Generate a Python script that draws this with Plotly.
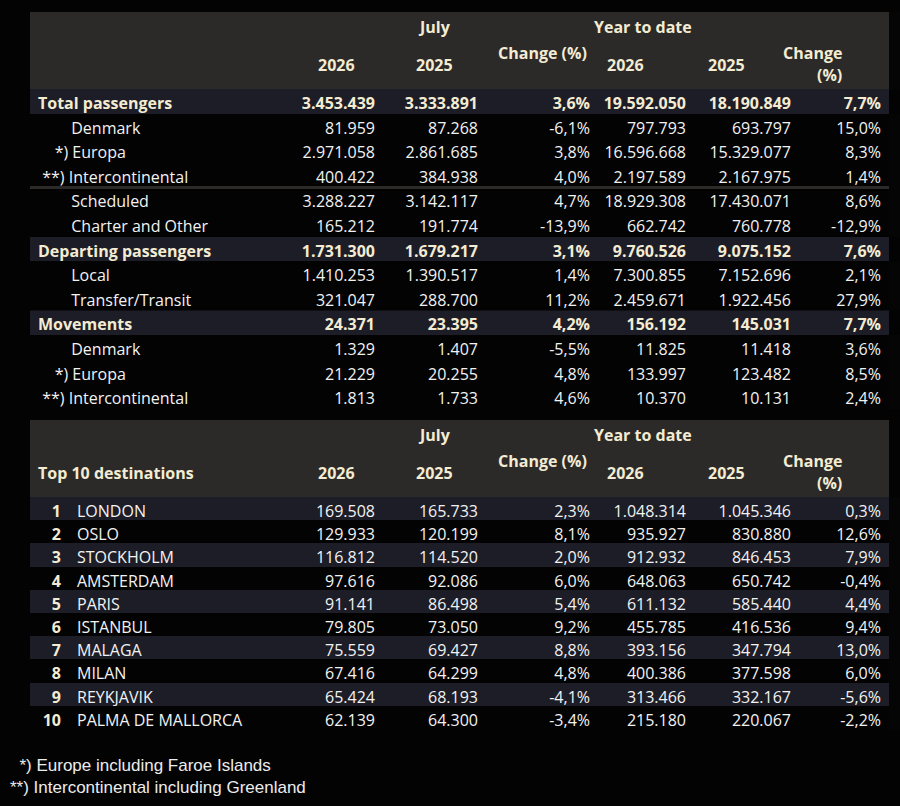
import plotly.graph_objects as go

# ---- top table: passengers / movements ----
# each group = bold total row + its detail rows
group_sizes = [5, 2, 3]
top_labels = ["Total passengers", "Denmark", "Europa", "Intercontinental",
              "Scheduled", "Charter and Other", "Departing passengers",
              "Local", "Transfer/Transit", "Movements", "Denmark", "Europa",
              "Intercontinental"]
top_markers = ["", "", "*)", "**)", "", "", "", "", "", "", "", "*)", "**)"]
jul_2026 = [3453439, 81959, 2971058, 400422, 3288227, 165212, 1731300,
            1410253, 321047, 24371, 1329, 21229, 1813]
jul_2025 = [3333891, 87268, 2861685, 384938, 3142117, 191774, 1679217,
            1390517, 288700, 23395, 1407, 20255, 1733]
jul_change = [3.6, -6.1, 3.8, 4.0, 4.7, -13.9, 3.1, 1.4, 11.2, 4.2, -5.5, 4.8, 4.6]
ytd_2026 = [19592050, 797793, 16596668, 2197589, 18929308, 662742, 9760526,
            7300855, 2459671, 156192, 11825, 133997, 10370]
ytd_2025 = [18190849, 693797, 15329077, 2167975, 17430071, 760778, 9075152,
            7152696, 1922456, 145031, 11418, 123482, 10131]
ytd_change = [7.7, 15.0, 8.3, 1.4, 8.6, -12.9, 7.6, 2.1, 27.9, 7.7, 3.6, 8.5, 2.4]

# ---- bottom table: top 10 destinations ----
dest_rank = [1, 2, 3, 4, 5, 6, 7, 8, 9, 10]
dest_names = ["LONDON", "OSLO", "STOCKHOLM", "AMSTERDAM", "PARIS", "ISTANBUL",
              "MALAGA", "MILAN", "REYKJAVIK", "PALMA DE MALLORCA"]
dest_jul_2026 = [169508, 129933, 116812, 97616, 91141, 79805, 75559, 67416, 65424, 62139]
dest_jul_2025 = [165733, 120199, 114520, 92086, 86498, 73050, 69427, 64299, 68193, 64300]
dest_jul_change = [2.3, 8.1, 2.0, 6.0, 5.4, 9.2, 8.8, 4.8, -4.1, -3.4]
dest_ytd_2026 = [1048314, 935927, 912932, 648063, 611132, 455785, 393156, 400386, 313466, 215180]
dest_ytd_2025 = [1045346, 830880, 846453, 650742, 585440, 416536, 347794, 377598, 332167, 220067]
dest_ytd_change = [0.3, 12.6, 7.9, -0.4, 4.4, 9.4, 13.0, 6.0, -5.6, -2.2]

footnotes = ["*) Europe including Faroe Islands", "**) Intercontinental including Greenland"]

# ---- styling ----
W, H = 900, 806
FONT = "Open Sans"
BG = "#030303"
HEAD_BG = "#2b2a29"
BAND_BG = "#1d1d27"
TEXT = "#f2f2f2"
CREAM = "#f4ecd2"
NB = "\u00a0"
FS = 16

col_edges = [30, 290, 383, 486, 598, 694, 799, 889]
top_widths = [b - a for a, b in zip(col_edges[:-1], col_edges[1:])]
rank_edge = 69
bot_widths = [rank_edge - col_edges[0], col_edges[1] - rank_edge] + top_widths[1:]
HEAD_H = 77
X_DOM = [col_edges[0] / W, col_edges[-1] / W]


def fmt_int(v):
    return f"{v:,}".replace(",", ".")


def fmt_pct(v):
    return f"{v:.1f}%".replace(".", ",")


def py(px_y):
    return 1 - px_y / H


def px(px_x):
    return px_x / W


marker_pad = {"": NB * 8, "*)": NB * 4, "**)": NB}
top_text = [marker_pad[mk] + (mk + " " if mk else "") + lab
            for lab, mk in zip(top_labels, top_markers)]
top_cols = [top_text,
            [fmt_int(v) for v in jul_2026], [fmt_int(v) for v in jul_2025],
            [fmt_pct(v) for v in jul_change],
            [fmt_int(v) for v in ytd_2026], [fmt_int(v) for v in ytd_2025],
            [fmt_pct(v) for v in ytd_change]]

fig = go.Figure()


def header_band(top):
    # empty dark header strip of a table
    fig.add_trace(go.Table(
        domain=dict(x=X_DOM, y=[py(top + HEAD_H + 1), py(top)]),
        columnwidth=[1],
        header=dict(values=[""], fill_color=HEAD_BG, height=HEAD_H, line_width=0),
        cells=dict(values=[[]], height=1, line_width=0),
    ))


# top table, one go.Table per group (bold row as that table's header)
top_top, top_row_h = 12, 24.6
header_band(top_top)
y = top_top + HEAD_H
start = 0
for size in group_sizes:
    bold = [c[start] for c in top_cols]
    bold[0] = top_labels[start]
    rows = [c[start + 1:start + 1 + size] for c in top_cols]
    seg_h = top_row_h * (size + 1)
    fig.add_trace(go.Table(
        domain=dict(x=X_DOM, y=[py(y + seg_h + 1), py(y)]),
        columnwidth=top_widths,
        header=dict(values=bold, fill_color=BAND_BG, height=top_row_h,
                    align=["left"] + ["right"] * 6, line_width=0,
                    font=dict(family=FONT, size=FS, color=CREAM, weight=700)),
        cells=dict(values=rows, fill_color=BG, height=top_row_h,
                   align=["left"] + ["right"] * 6, line_width=0,
                   font=dict(family=FONT, size=FS, color=TEXT)),
    ))
    y += seg_h
    start += size + 1

# bottom table
bot_top, bot_row_h = 420, 23.2
n = len(dest_names)
bot_fill = [BAND_BG if i % 2 == 0 else BG for i in range(n)]
bot_cols = [[str(r) for r in dest_rank], dest_names,
            [fmt_int(v) for v in dest_jul_2026], [fmt_int(v) for v in dest_jul_2025],
            [fmt_pct(v) for v in dest_jul_change],
            [fmt_int(v) for v in dest_ytd_2026], [fmt_int(v) for v in dest_ytd_2025],
            [fmt_pct(v) for v in dest_ytd_change]]
bot_bottom = bot_top + HEAD_H + bot_row_h * n

fig.add_trace(go.Table(
    domain=dict(x=X_DOM, y=[py(bot_bottom + 1), py(bot_top)]),
    columnwidth=bot_widths,
    header=dict(values=[""] * 8, fill_color=HEAD_BG, height=HEAD_H, line_width=0),
    cells=dict(values=bot_cols, fill_color=[bot_fill] * 8, height=bot_row_h,
               align=["right", "left"] + ["right"] * 6, line_width=0,
               font=dict(family=FONT, size=FS, color=[CREAM] + [TEXT] * 7,
                         weight=[700] + [400] * 7)),
))

# header texts (merged header cells are not possible in go.Table)
centers = [(a + b) / 2 for a, b in zip(col_edges[1:-1], col_edges[2:])]
head_items = [
    (centers[0], 53, "2026"), (centers[1], 15, "July"), (centers[1], 53, "2025"),
    (centers[2], 41, "Change (%)"), (centers[3], 53, "2026"),
    (centers[4], 53, "2025"), (col_edges[5], 15, "Year to date"),
    (centers[5], 41, "Change"), (centers[5], 63, "(%)"),
]
for t in (top_top, bot_top):
    for x, dy, txt in head_items:
        fig.add_annotation(x=px(x), y=py(t + dy), xref="paper", yref="paper",
                           text=txt, showarrow=False, yanchor="middle",
                           font=dict(family=FONT, size=FS, color=CREAM, weight=700))
fig.add_annotation(x=px(col_edges[0] + 6), y=py(bot_top + 53), xref="paper",
                   yref="paper", xanchor="left", yanchor="middle",
                   text="Top 10 destinations", showarrow=False,
                   font=dict(family=FONT, size=FS, color=CREAM, weight=700))

# thin separator between region rows and scheduled/charter rows
sep_y = top_top + HEAD_H + 4 * top_row_h
fig.add_shape(type="line", xref="paper", yref="paper",
              x0=X_DOM[0], x1=X_DOM[1], y0=py(sep_y), y1=py(sep_y),
              line=dict(color=HEAD_BG, width=3))

fig.add_annotation(x=px(8), y=py(776), xref="paper", yref="paper",
                   xanchor="left", yanchor="middle", align="left",
                   text=NB * 2 + footnotes[0] + "<br>" + footnotes[1],
                   showarrow=False,
                   font=dict(family="Liberation Sans", size=17, color="#ececec"))

fig.update_layout(width=W, height=H, margin=dict(l=0, r=0, t=0, b=0),
                  paper_bgcolor=BG, plot_bgcolor=BG)

fig.write_html("out.html", config={"displayModeBar": False},
               post_script="document.body.style.margin='0';"
                           "document.body.style.background='#030303';")
